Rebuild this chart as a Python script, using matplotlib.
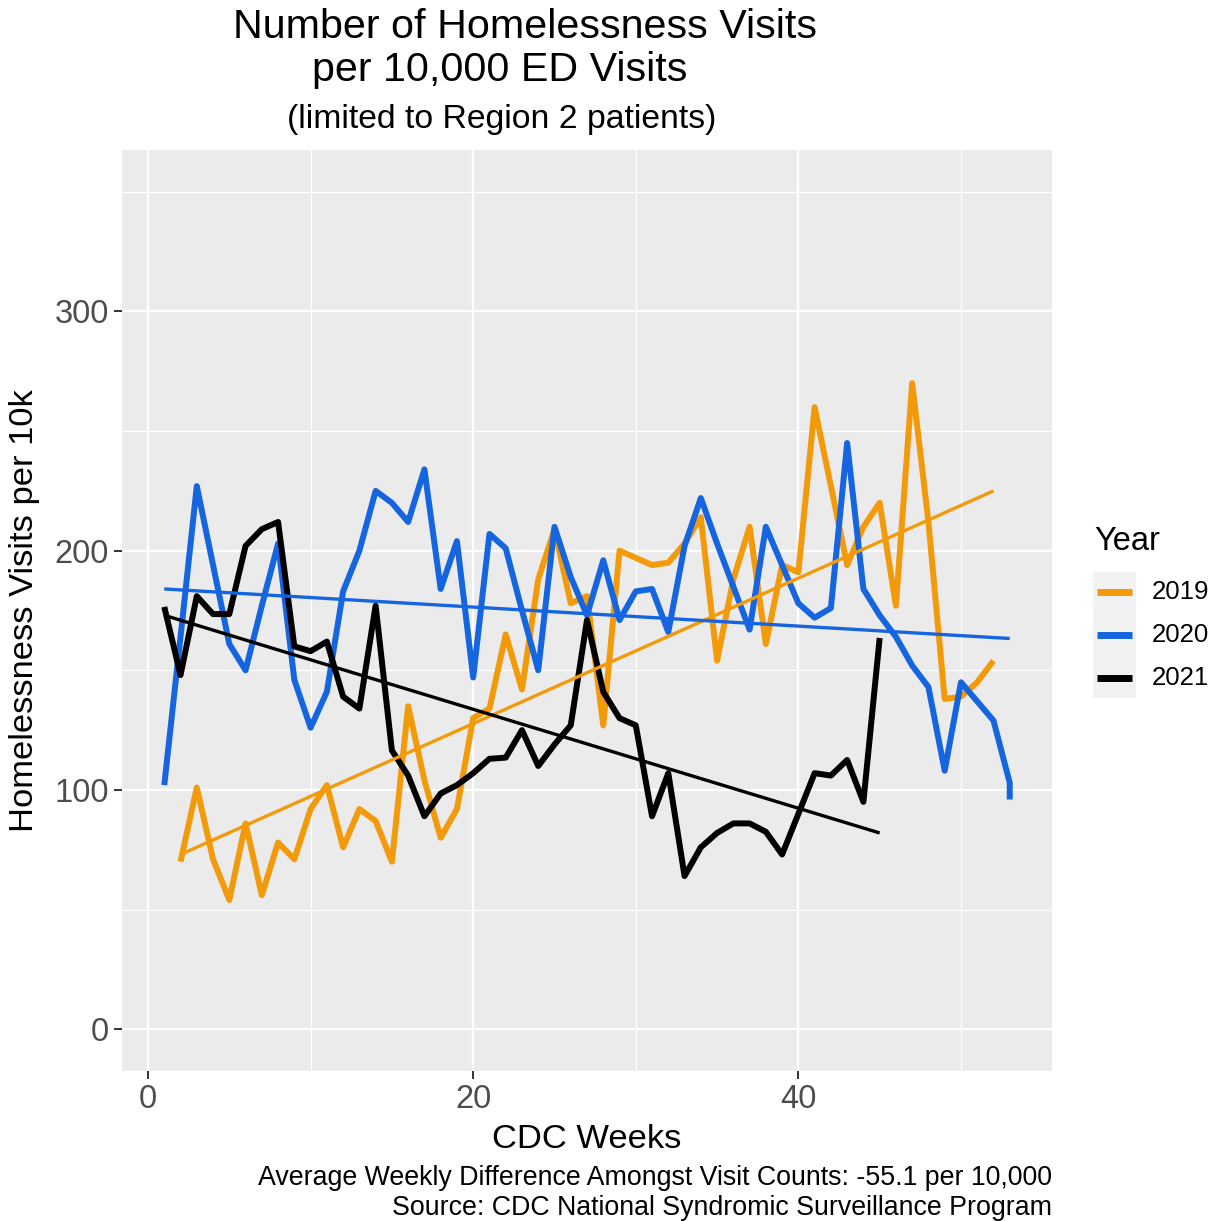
import numpy as np
import matplotlib
matplotlib.use("Agg")
import matplotlib.pyplot as plt
from matplotlib.lines import Line2D
from matplotlib.patches import Rectangle

plt.rcParams['font.family'] = ['Liberation Sans', 'DejaVu Sans']

# ---------------- data ----------------
weeks_2019 = list(range(2, 53))
values_2019 = [70, 101, 71, 54, 86, 56, 78, 71, 92, 102,
               76, 92, 87, 70, 135, 104, 80, 92, 130, 134,
               165, 142, 188, 209, 178, 181, 127, 200, 197, 194,
               195, 203, 214, 154, 188, 210, 161, 194, 191, 260,
               227, 194, 210, 220, 177, 270, 212, 138, 139, 145,
               154]

weeks_2020 = list(range(1, 54)) + [53]
values_2020 = [102, 164, 227, 194, 161, 150, 177, 203, 146, 126,
               141, 183, 200, 225, 220, 212, 234, 184, 204, 147,
               207, 201, 175, 150, 210, 189, 173, 196, 171, 183,
               184, 166, 202, 222, 203, 185, 167, 210, 194, 178,
               172, 176, 245, 184, 173, 164, 152, 143, 108, 145,
               137, 129, 103, 96]

weeks_2021 = list(range(1, 46))
values_2021 = [176.5, 148, 181, 173.5, 173.5, 202, 209, 212, 160, 158,
               162, 139, 134, 177, 116.5, 106, 89, 98.5, 102, 107,
               113, 113.5, 125, 110, 119, 127, 171, 141, 130, 127,
               89, 107, 64, 76, 82, 86, 86, 82.5, 73, 90,
               107, 106, 112.5, 95, 163.5]

# linear trend lines (value at first and last week)
trend_2019 = [73, 225]
trend_2020 = [184, 163.3]
trend_2021 = [173, 82]

years = ["2019", "2020", "2021"]
colors = ["#F39A0B", "#1565E0", "#000000"]

title_lines = ["Number of Homelessness Visits", "per 10,000 ED Visits"]
subtitle = "(limited to Region 2 patients)"
xlabel = "CDC Weeks"
ylabel = "Homelessness Visits per 10k"
legend_title = "Year"
caption_lines = ["Average Weekly Difference Amongst Visit Counts: -55.1 per 10,000",
                 "Source: CDC National Syndromic Surveillance Program"]
x_ticks = [0, 20, 40]
y_ticks = [0, 100, 200, 300]

# ---------------- figure ----------------
W, H = 1220, 1221
fig = plt.figure(figsize=(W / 100, H / 100), dpi=100)
fig.patch.set_facecolor("white")

def fx(px):
    return px / W

def fy(py):
    return 1 - py / H

L, R, T, B = 122, 1052, 150, 1071
ax = fig.add_axes([fx(L), fy(B), (R - L) / W, (B - T) / H])
ax.set_facecolor("#EBEBEB")
for s in ax.spines.values():
    s.set_visible(False)

ax.set_xlim(-1.6, 55.6)
ax.set_ylim(-17.5, 367.5)

ax.set_xticks(x_ticks)
ax.set_yticks(y_ticks)
ax.set_xticks([10, 30, 50], minor=True)
ax.set_yticks([50, 150, 250, 350], minor=True)
ax.grid(which="major", color="white", linewidth=1.6)
ax.grid(which="minor", color="white", linewidth=0.8)
ax.set_axisbelow(True)
ax.tick_params(which="major", length=5.5, width=1.4, color="#333333",
               labelsize=23.5, labelcolor="#4D4D4D", pad=4)
ax.tick_params(which="minor", length=0)

series = [(weeks_2019, values_2019), (weeks_2020, values_2020), (weeks_2021, values_2021)]
trends = [trend_2019, trend_2020, trend_2021]
for (wk, val), c in zip(series, colors):
    ax.plot(wk, val, color=c, linewidth=4.3, solid_capstyle="butt",
            solid_joinstyle="round", zorder=3)
for (wk, val), tr, c in zip(series, trends, colors):
    ax.plot([min(wk), max(wk)], tr, color=c, linewidth=2.4,
            solid_capstyle="butt", zorder=4)

ax.set_xlabel(xlabel, fontsize=24.8, labelpad=6)
ax.set_ylabel(ylabel, fontsize=24.8, labelpad=10)

# title / subtitle
fig.text(fx(525), fy(38), title_lines[0], ha="center", va="baseline", fontsize=29.7)
fig.text(fx(500), fy(81), title_lines[1], ha="center", va="baseline", fontsize=29.7)
fig.text(fx(502), fy(128), subtitle, ha="center", va="baseline", fontsize=24.3)

# caption
fig.text(fx(1052), fy(1185), caption_lines[0], ha="right", va="baseline", fontsize=19.25)
fig.text(fx(1052), fy(1215), caption_lines[1], ha="right", va="baseline", fontsize=19.25)

# legend (drawn by hand to match ggplot guide layout)
fig.text(fx(1094), fy(550), legend_title, ha="left", va="baseline", fontsize=23.5)
fig.add_artist(Rectangle((fx(1093), fy(698)), (1136 - 1093) / W, (698 - 572) / H,
                         transform=fig.transFigure, facecolor="#F2F2F2",
                         edgecolor="none"))
key_y = [592, 635, 678]
for yr, c, ky in zip(years, colors, key_y):
    fig.add_artist(Line2D([fx(1097), fx(1132)], [fy(ky), fy(ky)],
                          transform=fig.transFigure, color=c, linewidth=5,
                          solid_capstyle="butt"))
    fig.text(fx(1152), fy(ky), yr, ha="left", va="center", fontsize=18.6)

fig.savefig("out.png", dpi=100, facecolor="white")
